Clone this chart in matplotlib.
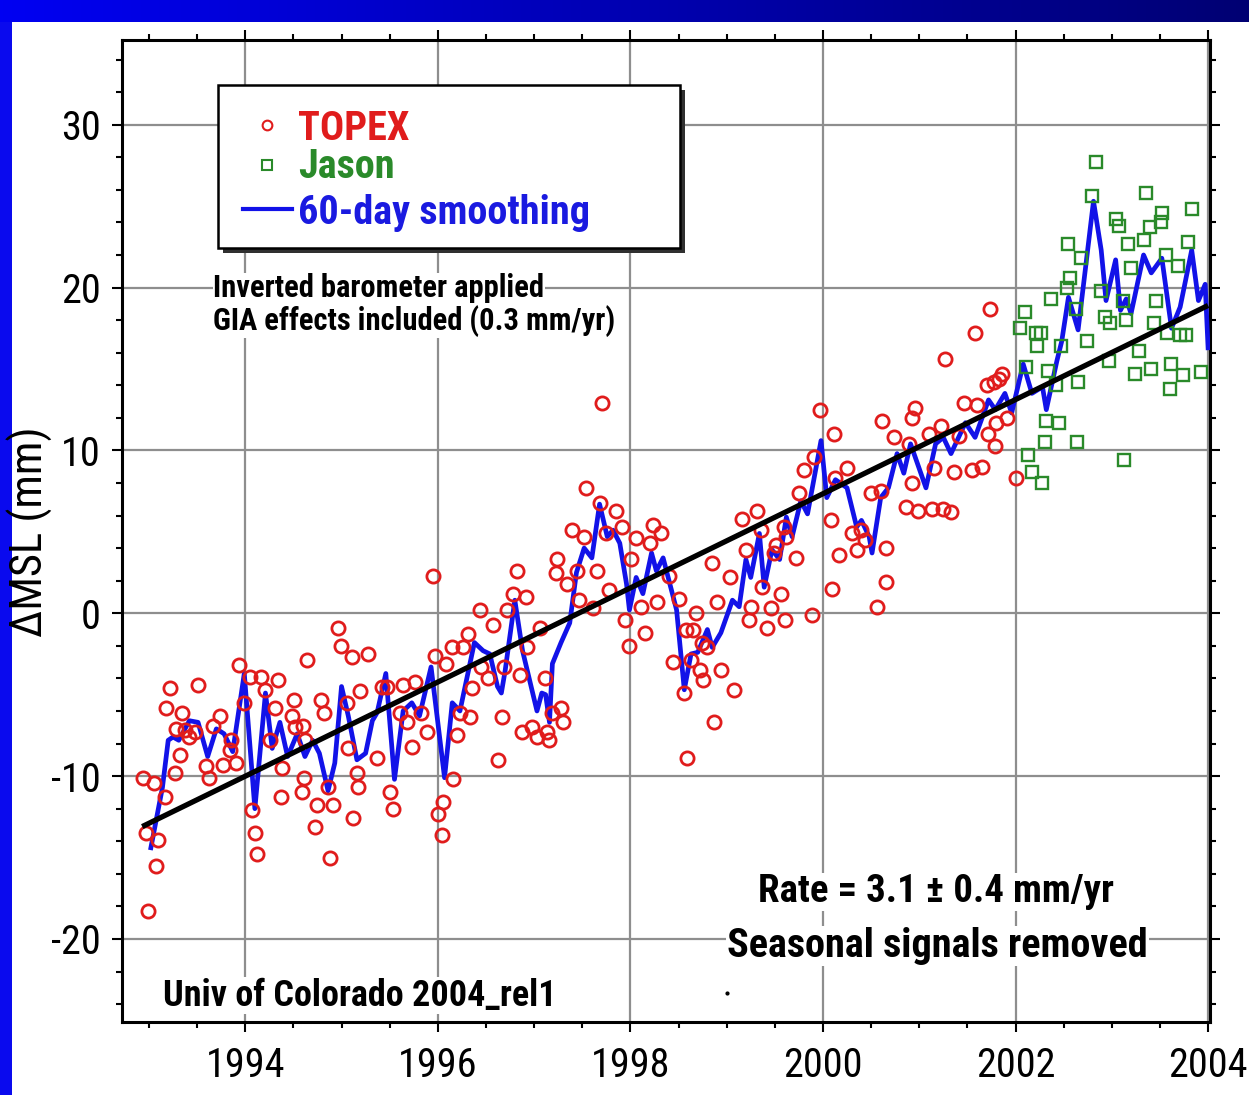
import numpy as np
import matplotlib
matplotlib.use("Agg")
import matplotlib.pyplot as plt
from matplotlib.patches import Rectangle
from matplotlib.lines import Line2D
from matplotlib.ticker import MultipleLocator, FormatStrFormatter

plt.rcParams["font.family"] = ["Roboto Condensed", "Archivo Narrow", "Liberation Sans", "DejaVu Sans"]
plt.rcParams["axes.unicode_minus"] = False

W, H = 1249, 1095

# TOPEX cycle means (decimal year, mm)
topex_year = [
    1992.94, 1992.97, 1992.99, 1993.05, 1993.07, 1993.09, 1993.17, 1993.18, 1993.22, 1993.27,
    1993.28, 1993.32, 1993.34, 1993.37, 1993.42, 1993.48, 1993.51, 1993.59, 1993.62, 1993.66,
    1993.74, 1993.77, 1993.84, 1993.85, 1993.90, 1993.94, 1993.99, 1994.05, 1994.07, 1994.10,
    1994.12, 1994.16, 1994.21, 1994.26, 1994.31, 1994.34, 1994.37, 1994.38, 1994.49, 1994.51,
    1994.52, 1994.59, 1994.60, 1994.61, 1994.62, 1994.64, 1994.72, 1994.75, 1994.79, 1994.82,
    1994.86, 1994.88, 1994.91, 1994.96, 1994.99, 1995.06, 1995.07, 1995.11, 1995.12, 1995.16,
    1995.17, 1995.19, 1995.28, 1995.37, 1995.42, 1995.47, 1995.50, 1995.53, 1995.61, 1995.64,
    1995.68, 1995.73, 1995.76, 1995.83, 1995.89, 1995.95, 1995.97, 1996.00, 1996.04, 1996.05,
    1996.09, 1996.15, 1996.16, 1996.20, 1996.23, 1996.26, 1996.31, 1996.33, 1996.36, 1996.44,
    1996.45, 1996.52, 1996.57, 1996.62, 1996.67, 1996.69, 1996.72, 1996.78, 1996.82, 1996.85,
    1996.87, 1996.92, 1996.93, 1996.98, 1997.03, 1997.06, 1997.11, 1997.13, 1997.16, 1997.19,
    1997.23, 1997.24, 1997.28, 1997.30, 1997.34, 1997.39, 1997.45, 1997.47, 1997.52, 1997.54,
    1997.61, 1997.65, 1997.68, 1997.71, 1997.75, 1997.78, 1997.85, 1997.91, 1997.94, 1997.99,
    1998.01, 1998.06, 1998.11, 1998.15, 1998.20, 1998.23, 1998.28, 1998.32, 1998.40, 1998.44,
    1998.51, 1998.56, 1998.58, 1998.59, 1998.63, 1998.65, 1998.68, 1998.72, 1998.74, 1998.75,
    1998.80, 1998.85, 1998.87, 1998.90, 1998.94, 1999.03, 1999.08, 1999.16, 1999.20, 1999.23,
    1999.25, 1999.31, 1999.36, 1999.37, 1999.42, 1999.46, 1999.49, 1999.51, 1999.56, 1999.60,
    1999.61, 1999.62, 1999.72, 1999.75, 1999.80, 1999.89, 1999.91, 1999.97, 2000.08, 2000.09,
    2000.12, 2000.13, 2000.17, 2000.25, 2000.30, 2000.35, 2000.40, 2000.44, 2000.50, 2000.56,
    2000.60, 2000.61, 2000.65, 2000.66, 2000.74, 2000.86, 2000.89, 2000.92, 2000.93, 2000.96,
    2000.99, 2001.10, 2001.13, 2001.15, 2001.23, 2001.25, 2001.27, 2001.33, 2001.36, 2001.41,
    2001.46, 2001.55, 2001.58, 2001.60, 2001.65, 2001.70, 2001.71, 2001.74, 2001.78, 2001.79,
    2001.80, 2001.83, 2001.86, 2001.91, 2002.01,
]
topex_mm = [
    -10.1, -13.5, -18.3, -10.4, -15.5, -13.9, -11.3, -5.8, -4.6, -9.8,
    -7.1, -8.7, -6.1, -7.2, -7.6, -7.3, -4.4, -9.4, -10.1, -6.9,
    -6.3, -9.3, -8.4, -7.8, -9.2, -3.2, -5.5, -3.9, -12.1, -13.5,
    -14.8, -3.9, -4.7, -7.8, -5.8, -4.1, -11.3, -9.5, -6.3, -5.3,
    -7.0, -11.0, -6.9, -10.1, -7.8, -2.9, -13.1, -11.8, -5.3, -6.1,
    -10.7, -15.0, -11.8, -0.9, -2.0, -5.5, -8.3, -2.7, -12.6, -9.8,
    -10.7, -4.8, -2.5, -8.9, -4.5, -4.5, -11.0, -12.0, -6.1, -4.4,
    -6.7, -8.2, -4.2, -6.1, -7.3, 2.3, -2.6, -12.3, -13.6, -11.6,
    -3.1, -2.1, -10.2, -7.5, -6.1, -2.1, -1.3, -6.4, -4.6, 0.2,
    -3.3, -4.0, -0.7, -9.0, -6.4, -3.3, 0.2, 1.2, 2.6, -3.8,
    -7.3, 1.0, -2.1, -7.0, -7.6, -0.9, -4.0, -7.3, -7.8, -6.1,
    2.5, 3.3, -5.8, -6.7, 1.8, 5.1, 2.6, 0.8, 4.7, 7.7,
    0.3, 2.6, 6.8, 12.9, 4.9, 1.4, 6.3, 5.3, -0.4, -2.0,
    3.3, 4.6, 0.4, -1.2, 4.3, 5.4, 0.7, 4.9, 2.3, -3.0,
    0.9, -4.9, -1.0, -8.9, -2.9, -1.0, 0.0, -3.5, -1.8, -4.1,
    -2.1, 3.1, -6.7, 0.7, -3.5, 2.2, -4.7, 5.8, 3.9, -0.4,
    0.4, 6.3, 5.1, 1.6, -0.9, 0.3, 3.7, 4.2, 1.2, 5.3,
    -0.4, 4.7, 3.4, 7.4, 8.8, -0.1, 9.6, 12.5, 5.7, 1.5,
    11.0, 8.3, 3.6, 8.9, 4.9, 3.9, 5.1, 4.5, 7.4, 0.4,
    7.5, 11.8, 4.0, 1.9, 10.8, 6.5, 10.4, 8.0, 12.0, 12.6,
    6.3, 11.0, 6.4, 8.9, 11.5, 6.4, 15.6, 6.2, 8.7, 10.9,
    12.9, 8.8, 17.2, 12.8, 9.0, 14.0, 11.0, 18.7, 14.2, 10.3,
    11.7, 14.4, 14.7, 12.0, 8.3,
]

# Jason cycle means
jason_year = [
    2002.05, 2002.10, 2002.11, 2002.13, 2002.17, 2002.21, 2002.22, 2002.26, 2002.28, 2002.31,
    2002.32, 2002.34, 2002.37, 2002.42, 2002.45, 2002.47, 2002.53, 2002.55, 2002.57, 2002.63,
    2002.64, 2002.65, 2002.68, 2002.74, 2002.79, 2002.84, 2002.89, 2002.93, 2002.97, 2002.98,
    2003.04, 2003.07, 2003.12, 2003.13, 2003.15, 2003.17, 2003.20, 2003.24, 2003.28, 2003.33,
    2003.36, 2003.40, 2003.41, 2003.44, 2003.46, 2003.51, 2003.52, 2003.56, 2003.57, 2003.60,
    2003.61, 2003.69, 2003.71, 2003.74, 2003.77, 2003.79, 2003.83, 2003.93,
]
jason_mm = [
    17.5, 18.5, 15.1, 9.7, 8.7, 17.2, 16.4, 17.2, 8.0, 10.5,
    11.8, 14.9, 19.3, 14.0, 11.7, 16.4, 20.0, 22.7, 20.6, 18.7,
    10.5, 14.2, 21.8, 16.7, 25.6, 27.7, 19.8, 18.2, 15.5, 17.8,
    24.2, 23.8, 19.2, 9.4, 18.0, 22.7, 21.2, 14.7, 16.1, 22.9,
    25.8, 23.7, 15.0, 17.8, 19.2, 24.0, 24.6, 22.0, 17.2, 13.8,
    15.3, 21.3, 17.1, 14.6, 17.1, 22.8, 24.8, 14.8,
]

# 60-day smoothed series
smooth_year = [
    1993.02, 1993.14, 1993.20, 1993.25, 1993.31, 1993.42, 1993.51, 1993.61, 1993.70, 1993.78,
    1993.87, 1993.99, 1994.10, 1994.21, 1994.28, 1994.36, 1994.44, 1994.54, 1994.62, 1994.70,
    1994.77, 1994.86, 1994.93, 1995.00, 1995.07, 1995.16, 1995.25, 1995.32, 1995.37, 1995.46,
    1995.55, 1995.64, 1995.73, 1995.81, 1995.93, 1996.07, 1996.15, 1996.23, 1996.38, 1996.47,
    1996.54, 1996.62, 1996.66, 1996.70, 1996.80, 1996.88, 1997.03, 1997.08, 1997.12, 1997.16,
    1997.19, 1997.28, 1997.37, 1997.44, 1997.52, 1997.60, 1997.68, 1997.76, 1997.82, 1997.89,
    1997.96, 1997.99, 1998.06, 1998.13, 1998.22, 1998.27, 1998.34, 1998.48, 1998.56, 1998.63,
    1998.70, 1998.80, 1998.85, 1998.94, 1999.06, 1999.13, 1999.20, 1999.25, 1999.34, 1999.39,
    1999.47, 1999.55, 1999.62, 1999.68, 1999.77, 1999.84, 1999.98, 2000.04, 2000.13, 2000.25,
    2000.35, 2000.40, 2000.48, 2000.51, 2000.60, 2000.68, 2000.77, 2000.84, 2000.91, 2001.07,
    2001.17, 2001.25, 2001.33, 2001.48, 2001.58, 2001.72, 2001.79, 2001.89, 2001.96, 2002.08,
    2002.17, 2002.28, 2002.32, 2002.43, 2002.48, 2002.55, 2002.65, 2002.81, 2002.89, 2002.94,
    2003.04, 2003.09, 2003.15, 2003.20, 2003.33, 2003.41, 2003.52, 2003.62, 2003.71, 2003.83,
    2003.90, 2003.97, 2004.00,
]
smooth_mm = [
    -14.4, -10.7, -7.8, -7.6, -7.8, -6.6, -6.7, -8.8, -7.1, -7.4,
    -8.5, -3.7, -12.0, -4.9, -8.3, -6.7, -8.8, -7.4, -8.8, -7.8,
    -8.6, -10.9, -9.2, -4.5, -6.3, -9.0, -8.6, -6.6, -6.1, -3.7,
    -10.2, -6.0, -5.5, -6.3, -3.3, -10.1, -5.5, -6.0, -1.8, -2.3,
    -2.5, -4.5, -4.9, -3.5, 0.8, -2.3, -6.0, -4.9, -5.0, -6.7,
    -3.1, -1.8, -0.6, 2.5, 4.0, 3.4, 6.7, 4.7, 5.1, 4.3,
    1.8, 0.2, 2.2, 1.2, 3.7, 2.6, 3.4, 0.2, -4.7, -2.5,
    -2.4, -1.0, -2.1, -1.2, 0.8, 0.4, 3.3, 2.2, 4.9, 1.6,
    3.9, 3.3, 5.9, 4.7, 6.9, 6.1, 10.6, 7.1, 8.2, 7.7,
    5.3, 5.7, 4.7, 3.7, 7.1, 7.7, 9.8, 8.6, 10.4, 7.7,
    10.4, 10.8, 9.8, 11.7, 10.8, 13.1, 12.5, 13.5, 12.3, 15.3,
    13.5, 13.9, 12.5, 15.5, 16.7, 19.4, 17.4, 25.3, 22.3, 19.2,
    21.7, 18.6, 19.3, 18.4, 22.0, 20.9, 21.8, 17.5, 18.8, 22.3,
    19.2, 20.2, 16.3,
]

# linear fit end points
trend_year = [1992.93, 2004.0]
trend_mm = [-13.1, 18.9]

stray_dot_year = [1999.0]
stray_dot_mm = [-23.3]


def fx(px):
    return px / W


def fy(py):
    return 1 - py / H


fig = plt.figure(figsize=(W / 100, H / 100), dpi=100)
fig.patch.set_facecolor("#0a0aee")

# white slide area, blue strip left and top
fig.add_artist(Rectangle((fx(12), 0), 1 - fx(12), fy(22), transform=fig.transFigure,
                         facecolor="white", edgecolor="none", zorder=-5))
band = fig.add_axes([0, fy(22), 1, 22 / H])
band.axis("off")
ramp = np.linspace(0.95, 0.45, 400)
band_img = np.zeros((1, 400, 3))
band_img[0, :, 2] = ramp
band.imshow(band_img, aspect="auto", extent=(0, 1, 0, 1))

ax = fig.add_axes([fx(122), fy(1022), (1210 - 122) / W, (1022 - 40) / H])

ax.plot(smooth_year, smooth_mm, color="#1212e8", lw=3.4, zorder=3)
ax.plot(topex_year, topex_mm, "o", mfc="none", mec="#e01c1c", ms=9.5, mew=2.0, zorder=4)
ax.plot(jason_year, jason_mm, "s", mfc="none", mec="#2a8a2a", ms=8.5, mew=1.7, zorder=4)
ax.plot(trend_year, trend_mm, color="black", lw=3.8, solid_capstyle="butt", zorder=5)
ax.plot(stray_dot_year, stray_dot_mm, ".", color="black", ms=4, zorder=5)

ax.set_xlim(1992.72, 2004.02)
ax.set_ylim(-25.1, 35.2)
ax.xaxis.set_major_locator(MultipleLocator(2))
ax.xaxis.set_minor_locator(MultipleLocator(0.5))
ax.yaxis.set_major_locator(MultipleLocator(10))
ax.yaxis.set_minor_locator(MultipleLocator(2))
ax.xaxis.set_major_formatter(FormatStrFormatter("%d"))
ax.yaxis.set_major_formatter(FormatStrFormatter("%d"))

ax.grid(which="major", color="#8e8e8e", lw=1.6)
ax.tick_params(which="both", direction="out", top=True, right=True,
               labeltop=False, labelright=False, width=1.5, labelsize=29)
ax.tick_params(which="major", length=7.5)
ax.tick_params(which="minor", length=4.5)
ax.tick_params(axis="x", which="major", pad=10)
ax.tick_params(axis="y", which="major", pad=8)
for s in ax.spines.values():
    s.set_linewidth(2.2)

txt = dict(fontweight="bold", va="baseline", zorder=6,
           bbox=dict(facecolor="white", edgecolor="none", pad=0.5))
ax.text(1993.67, 19.4, "Inverted barometer applied", fontsize=22, **txt)
ax.text(1993.67, 17.4, "GIA effects included (0.3 mm/yr)", fontsize=22, **txt)
ax.text(2001.17, -17.75, "Rate = 3.1 \u00b1 0.4 mm/yr", fontsize=28, ha="center", **txt)
ax.text(2001.19, -21.1, "Seasonal signals removed", fontsize=29, ha="center", **txt)
ax.text(1993.15, -24.1, "Univ of Colorado 2004_rel1", fontsize=26, **txt)

fig.text(fx(30), fy(532), "\u0394MSL (mm)", rotation=90, ha="center", va="center", fontsize=32)

# key box with drop shadow
bw, bh = (680 - 218) / W, (248 - 85) / H
fig.add_artist(Rectangle((fx(223), fy(253)), bw, bh, transform=fig.transFigure,
                         facecolor="#303030", edgecolor="none", zorder=5))
fig.add_artist(Rectangle((fx(218), fy(248)), bw, bh, transform=fig.transFigure,
                         facecolor="white", edgecolor="black", lw=1.8, zorder=6))
fig.add_artist(Line2D([fx(267)], [fy(125)], marker="o", mfc="none", mec="#e01c1c",
                      ms=7, mew=1.5, transform=fig.transFigure, zorder=7))
fig.add_artist(Line2D([fx(267)], [fy(165)], marker="s", mfc="none", mec="#2a8a2a",
                      ms=6.5, mew=1.5, transform=fig.transFigure, zorder=7))
fig.add_artist(Line2D([fx(243), fx(292)], [fy(209), fy(209)], color="#1212e8", lw=3,
                      transform=fig.transFigure, zorder=7))
key = dict(fontsize=29, fontweight="bold", va="baseline", zorder=7)
fig.text(fx(298), fy(140), "TOPEX", color="#e01c1c", **key)
fig.text(fx(298), fy(178), "Jason", color="#2a8a2a", **key)
fig.text(fx(298), fy(224), "60-day smoothing", color="#1a1ae0", **key)

fig.savefig("out.png", dpi=100)
